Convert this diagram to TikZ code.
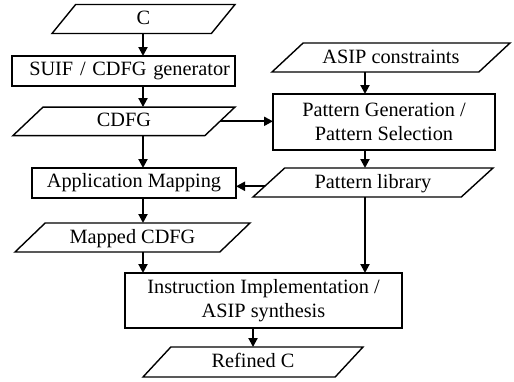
\documentclass[tikz,border=0pt]{standalone}
\usepackage{fontspec}
\setmainfont{Liberation Serif}
\usetikzlibrary{shapes.geometric,arrows.meta}
\begin{document}
\begin{tikzpicture}[x=1pt,y=-1pt,
  every node/.style={font=\fontsize{20.3}{23.5}\selectfont, inner sep=0pt, outer sep=0pt},
  box/.style={draw, line width=1.4pt, rectangle},
  para/.style={draw, line width=1.4pt, shape=trapezium, trapezium stretches body,
    text height=15pt, text depth=4pt},
  arr/.style={line width=2pt, -{Triangle[length=9pt,width=9pt]}}
]
\useasboundingbox (0,0) rectangle (514,381);
\coordinate (xl) at (143,0);
\coordinate (xr) at (365,0);

\node[para, trapezium left angle=38.8, trapezium right angle=141.2, minimum width=183pt, minimum height=29pt] (c) at (143.5,19) {C};
\node[box, minimum width=223pt, minimum height=30pt, text width=213pt, align=right] (suif) at (123.5,71) {SUIF / CDFG generator};
\node[para, trapezium left angle=32.3, trapezium right angle=147.7, minimum width=222pt, minimum height=28.5pt] (cdfg) at (124,121.3) {CDFG};
\node[box, minimum width=204pt, minimum height=30pt] (app) at (134,183) {Application Mapping};
\node[para, trapezium left angle=32.2, trapezium right angle=147.8, minimum width=235pt, minimum height=29pt] (mapped) at (132.5,237.5) {Mapped CDFG};
\node[para, trapezium left angle=31.4, trapezium right angle=148.6, minimum width=238pt, minimum height=29pt] (asip) at (391,57.5) {ASIP constraints};
\node[box, minimum width=222pt, minimum height=56pt, align=center] (pat) at (384,122) {Pattern Generation /\\Pattern Selection};
\node[para, trapezium left angle=30.9, trapezium right angle=149.1, minimum width=240pt, minimum height=29pt] (plib) at (373,182.5) {Pattern library};
\node[box, minimum width=277pt, minimum height=55pt, align=center] (instr) at (263.5,300.5) {Instruction Implementation /\\ASIP synthesis};
\node[para, trapezium left angle=34.3, trapezium right angle=145.7, minimum width=220pt, minimum height=30pt] (ref) at (253,362) {Refined C};

\draw[arr] (c.south -| xl) -- (suif.north -| xl);
\draw[arr] (suif.south -| xl) -- (cdfg.north -| xl);
\draw[arr] (cdfg.south -| xl) -- (app.north -| xl);
\draw[arr] (app.south -| xl) -- (mapped.north -| xl);
\draw[arr] (mapped.south -| xl) -- (instr.north -| xl);
\draw[arr] (cdfg.east) -- (cdfg.east -| pat.west);
\draw[arr] (asip.south -| xr) -- (pat.north -| xr);
\draw[arr] (pat.south -| xr) -- (plib.north -| xr);
\draw[arr] (plib.south -| xr) -- (instr.north -| xr);
\draw[arr] (plib.182.5) -- (plib.182.5 -| app.east);
\draw[arr] (instr.south -| ref.north) -- (ref.north);
\end{tikzpicture}
\end{document}
